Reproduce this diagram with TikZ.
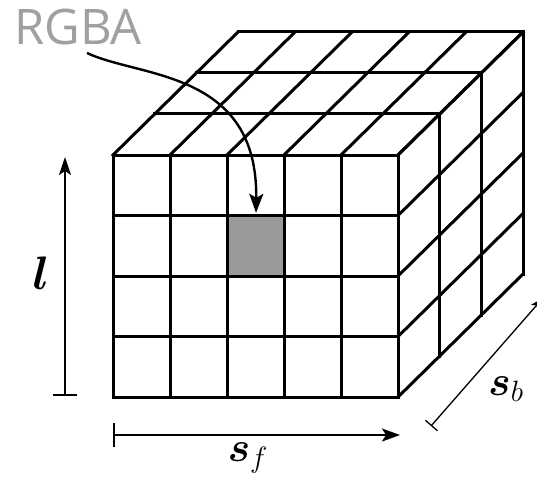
\RequirePackage{fix-cm}
\documentclass[tikz,border=0pt]{standalone}
\usepackage{amsmath}
\usepackage{fontspec}
\newfontfamily\rgbafont{Open Sans}
\usetikzlibrary{arrows.meta}
\definecolor{labelgray}{HTML}{A0A0A0}
\definecolor{cellgray}{HTML}{999999}
\tikzset{
  cube/.style={line width=3pt, line cap=rect},
  dimline/.style={line width=2pt},
  thindim/.style={line width=1.3pt},
  callout/.style={line width=2.4pt, -{Stealth[length=19pt,width=14pt,inset=4pt]}},
  mathlabel/.style={inner sep=0pt, anchor=center},
}
\begin{document}
\begin{tikzpicture}[x=1pt,y=-1pt]
\clip (0,0) rectangle (537,481);
\fill[white] (0,0) rectangle (537,481);
\def\dx{41.67}
\def\dy{41}
% highlighted cell
\node[fill=cellgray, minimum width=56pt, minimum height=60pt, inner sep=0pt] (cell) at (256,245) {};
% front face
\foreach \i in {0,...,5} \draw[cube] ({113+57*\i},155) -- ({113+57*\i},397);
\foreach \j in {0,...,4} \draw[cube] (113,{155+60.5*\j}) -- (398,{155+60.5*\j});
% top face
\foreach \k in {1,2,3} \draw[cube] ({113+\k*\dx},{155-\k*\dy}) -- ({398+\k*\dx},{155-\k*\dy});
\foreach \i in {0,...,5} \draw[cube] ({113+57*\i},155) -- ++({3*\dx},{-3*\dy});
% right face
\foreach \k in {1,2,3} \draw[cube] ({398+\k*\dx},{155-\k*\dy}) -- ++(0,242);
\foreach \j in {0,...,4} \draw[cube] (398,{155+60.5*\j}) -- ++({3*\dx},{-3*\dy});
% RGBA label and callout
\node[text=labelgray, inner sep=0pt] (rgba) at (78,27) {\rgbafont\fontsize{49}{49}\selectfont RGBA};
\coordinate (cs) at (87,53);
\draw[callout, shorten >=2pt] (cs) .. controls (140,78) and (258,70) .. (cell.north);
% l dimension
\coordinate (lbot) at (65,396);
\coordinate (ltop) at (65,157);
\draw[dimline, {Bar[width=24pt]}-{Stealth[length=18pt,width=12pt,inset=4pt]}] (lbot) -- (ltop);
\node[mathlabel] (llab) at (41,273) {\fontsize{47}{47}\selectfont$\boldsymbol{l}$};
% s_f dimension
\coordinate (sfl) at (113,435);
\coordinate (sfr) at (400,435);
\draw[dimline, {Bar[width=24pt]}-{Stealth[length=18pt,width=13pt,inset=4pt]}] (sfl) -- (sfr);
\node[mathlabel] (sflab) at (248,458) {\fontsize{42}{42}\selectfont$\boldsymbol{s}_{f}$};
% s_b dimension
\coordinate (sbl) at (431,426);
\coordinate (sbr) at (543,298);
\draw[thindim, {Bar[width=16pt]}-{Stealth[length=13pt,width=9pt,inset=3pt]}] (sbl) -- (sbr);
\node[mathlabel] (sblab) at (506,389) {\fontsize{42}{42}\selectfont$\boldsymbol{s}_{b}$};
\end{tikzpicture}
\end{document}
